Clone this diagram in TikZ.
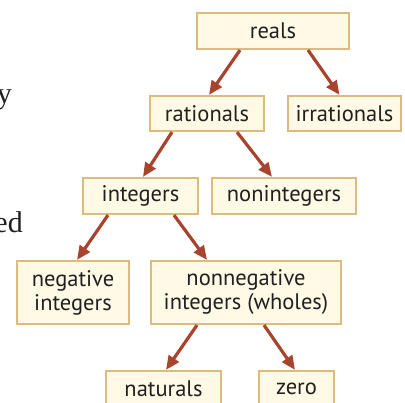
\documentclass[tikz,border=0pt]{standalone}
\usepackage{fontspec}
\setmainfont{PT Sans}
\newfontfamily\pagefont{Liberation Serif}
\usetikzlibrary{arrows.meta}
\definecolor{boxfill}{HTML}{FFFAE6}
\definecolor{boxline}{HTML}{DDBB7C}
\definecolor{arrcol}{HTML}{A8432E}
\definecolor{txt}{HTML}{231F20}
\tikzset{
  catbox/.style={draw=boxline, fill=boxfill, line width=2.2pt, inner sep=0pt,
    text=txt, align=center, font=\fontsize{22.5}{24}\selectfont},
  arr/.style={draw=arrcol, line width=3.2pt,
    -{Triangle[length=14pt,width=12pt]}, shorten >=0pt},
  pagetext/.style={font=\pagefont\fontsize{30}{34}\selectfont, text=txt, inner sep=0pt}
}
\begin{document}
\begin{tikzpicture}[x=1pt,y=-1pt]
\useasboundingbox (0,0) rectangle (405,403);
\node[pagetext, anchor=base east] (py) at (12,104) {y};
\node[pagetext, anchor=base east] (ped) at (23,233) {ed};

\node[catbox, minimum width=152pt, minimum height=36pt] (reals) at (273,31) {reals};
\node[catbox, minimum width=114pt, minimum height=35pt] (rationals) at (207,113.5) {rationals};
\node[catbox, minimum width=113pt, minimum height=35pt] (irrationals) at (344.5,113.5) {irrationals};
\node[catbox, minimum width=115pt, minimum height=36pt] (integers) at (140.5,196) {integers};
\node[catbox, minimum width=144pt, minimum height=36pt] (nonintegers) at (284,196) {nonintegers};
\node[catbox, minimum width=112pt, minimum height=63pt] (negative) at (73,292.5) {negative\\integers};
\node[catbox, minimum width=190pt, minimum height=63pt] (nonnegative) at (246,292.5) {nonnegative\\integers (wholes)};
\node[catbox, minimum width=115pt, minimum height=36pt] (naturals) at (163.5,389) {naturals};
\node[catbox, minimum width=75pt, minimum height=36pt] (zero) at (296.5,389) {zero};

\draw[arr] ([xshift=-33pt]reals.south) -- ([xshift=2pt]rationals.north);
\draw[arr] ([xshift=35pt]reals.south) -- ([xshift=-5pt]irrationals.north);
\draw[arr] ([xshift=-35pt]rationals.south) -- ([xshift=2.5pt]integers.north);
\draw[arr] ([xshift=30pt]rationals.south) -- ([xshift=-12pt]nonintegers.north);
\draw[arr] ([xshift=-32.5pt]integers.south) -- ([xshift=4pt]negative.north);
\draw[arr] ([xshift=33.5pt]integers.south) -- ([xshift=-39pt]nonnegative.north);
\draw[arr] ([xshift=-49pt]nonnegative.south) -- ([xshift=2.5pt]naturals.north);
\draw[arr] ([xshift=18pt]nonnegative.south) -- ([xshift=-1.5pt]zero.north);
\end{tikzpicture}
\end{document}
